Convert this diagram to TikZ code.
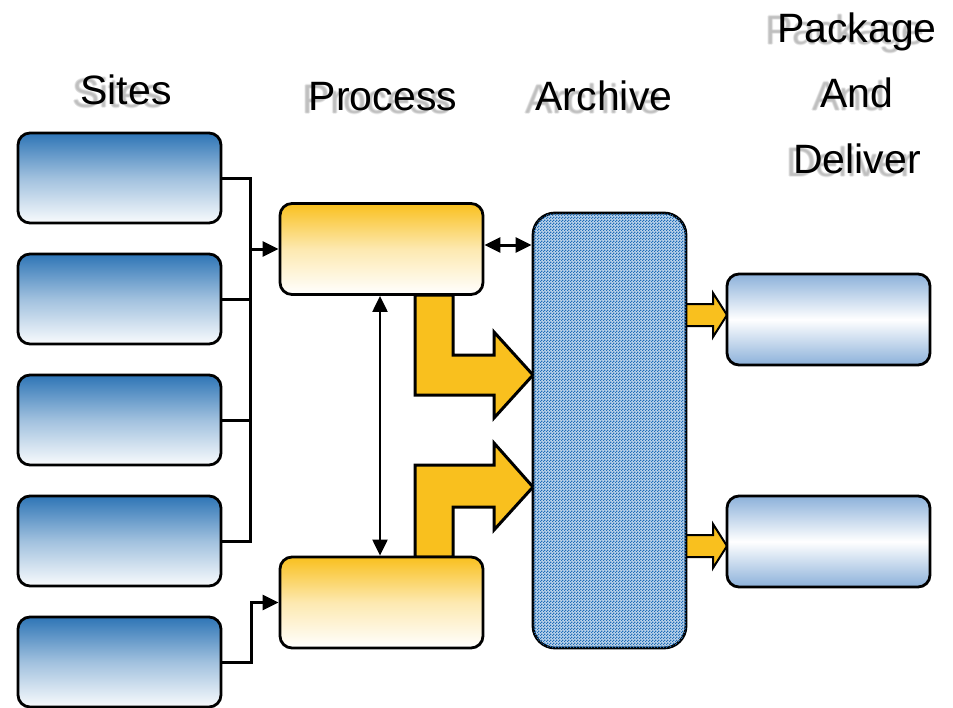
\documentclass[tikz,border=0pt]{standalone}
\usepackage{fontspec}
\setmainfont{Liberation Sans}
\usetikzlibrary{arrows.meta,patterns.meta,calc}

\definecolor{siteblue}{HTML}{2E75B6}
\definecolor{gold}{HTML}{F9C01E}
\definecolor{pkgblue}{HTML}{8CB1DA}
\definecolor{checkblue}{HTML}{1F6DB8}

% fine two-colour checkerboard used for the archive store
\tikzdeclarepattern{
  name=finechecker,
  type=uncolored,
  bottom left={(0pt,0pt)},
  top right={(3pt,3pt)},
  tile size={(3pt,3pt)},
  code={
    \fill (0pt,0pt) rectangle (1.5pt,1.5pt);
    \fill (1.5pt,1.5pt) rectangle (3pt,3pt);
  }
}

% heading with a soft grey drop copy behind it
\newcommand\droplabel[4]{%
  \foreach \dx/\dy in {-1/0,1/0,0/-1,0/1,0/0}{
    \node[shade lbl] at ($(#1)+(#2)+(\dx,\dy)$) {#4};
  }
  \node[lbl] (#3) at (#1) {#4};
}

\tikzset{
  box/.style={draw=black, line width=2.8pt, rounded corners=12pt,
    minimum width=203pt, minimum height=90pt, inner sep=0pt},
  sitebox/.style={box, top color=siteblue, bottom color=siteblue!3!white,
    middle color=siteblue!45!white},
  procbox/.style={box, top color=gold, bottom color=white,
    middle color=gold!35!white},
  pkgbox/.style={box, top color=pkgblue, bottom color=pkgblue,
    middle color=white},
  archbox/.style={draw=black, line width=2.8pt, rounded corners=22pt,
    minimum width=153pt, minimum height=435pt, inner sep=0pt,
    fill=checkblue!30!white,
    postaction={pattern=finechecker, pattern color=checkblue}},
  conn/.style={draw=black, line width=3pt},
  tip/.style={-{Triangle[length=16pt,width=15pt]}},
  bothtips/.style={{Triangle[length=16pt,width=15pt]}-{Triangle[length=16pt,width=15pt]}},
  flow/.style={draw=black, line width=3pt, fill=gold, line join=miter},
  smallflow/.style={draw=black, line width=2pt, fill=gold, line join=miter},
  lbl/.style={anchor=base, inner sep=0pt, font=\fontsize{41}{49}\selectfont},
  shade lbl/.style={lbl, text=black!40, opacity=0.18},
}

\begin{document}
\begin{tikzpicture}[x=1pt, y=-1pt]
\useasboundingbox (0,0) rectangle (953,707);

% headings
\droplabel{126,104}{-8,3}{sites}{Sites}
\droplabel{383,110}{-6,3}{proc}{Process}
\droplabel{604,110}{-10,3}{arch}{Archive}
\droplabel{857,42}{-12,2}{pack}{Package}
\droplabel{857,107}{-8,3}{and}{And}
\droplabel{857,173}{-7,3}{del}{Deliver}

% wide flow arrows from the process stages into the archive
\draw[flow] (415,295) -- (415,395) -- (494,395) -- (494,418) -- (533,375)
  -- (494,332) -- (494,355) -- (453,355) -- (453,295) -- cycle;
\draw[flow] (415,557) -- (415,465) -- (494,465) -- (494,443) -- (533,487)
  -- (494,530) -- (494,507) -- (453,507) -- (453,557) -- cycle;

% small flow arrows from the archive to the delivery packages
\draw[smallflow] (684,304) -- (713,304) -- (713,293) -- (727,315) -- (713,337)
  -- (713,326) -- (684,326) -- cycle;
\draw[smallflow] (684,535) -- (713,535) -- (713,524) -- (727,546) -- (713,568)
  -- (713,557) -- (684,557) -- cycle;

% sites
\node[sitebox] (s1) at (119.5,178) {};
\node[sitebox] (s2) at (119.5,299) {};
\node[sitebox] (s3) at (119.5,420) {};
\node[sitebox] (s4) at (119.5,541) {};
\node[sitebox] (s5) at (119.5,662) {};

% processing stages
\node[procbox, minimum height=91pt] (p1) at (381.5,249) {};
\node[procbox, minimum height=91pt] (p2) at (381.5,602.5) {};

% archive store
\node[archbox] (ar) at (609.5,430.5) {};

% delivery packages
\node[pkgbox, minimum height=91pt] (k1) at (828.5,319.5) {};
\node[pkgbox, minimum height=91pt] (k2) at (828.5,541.5) {};

% site collection bus
\draw[conn] (s1.east) -- ++(28,0) coordinate (bus) -- (bus |- s4.east) -- (s4.east);
\draw[conn] (s2.east) -- (bus |- s2.east);
\draw[conn] (s3.east) -- (bus |- s3.east);
\draw[conn, tip] (bus |- p1.west) -- (p1.west);
\draw[conn, tip] (s5.east) -- ++(29,0) |- (p2.west);

% exchanges between processing stages and with the archive
\draw[line width=2.2pt, bothtips] ([xshift=-1.5pt]p1.south) -- ([xshift=-1.5pt]p2.north);
\draw[line width=3pt, bothtips]
  ([yshift=4pt]p1.east) -- ([yshift=4pt]p1.east -| ar.west);
\end{tikzpicture}
\end{document}
